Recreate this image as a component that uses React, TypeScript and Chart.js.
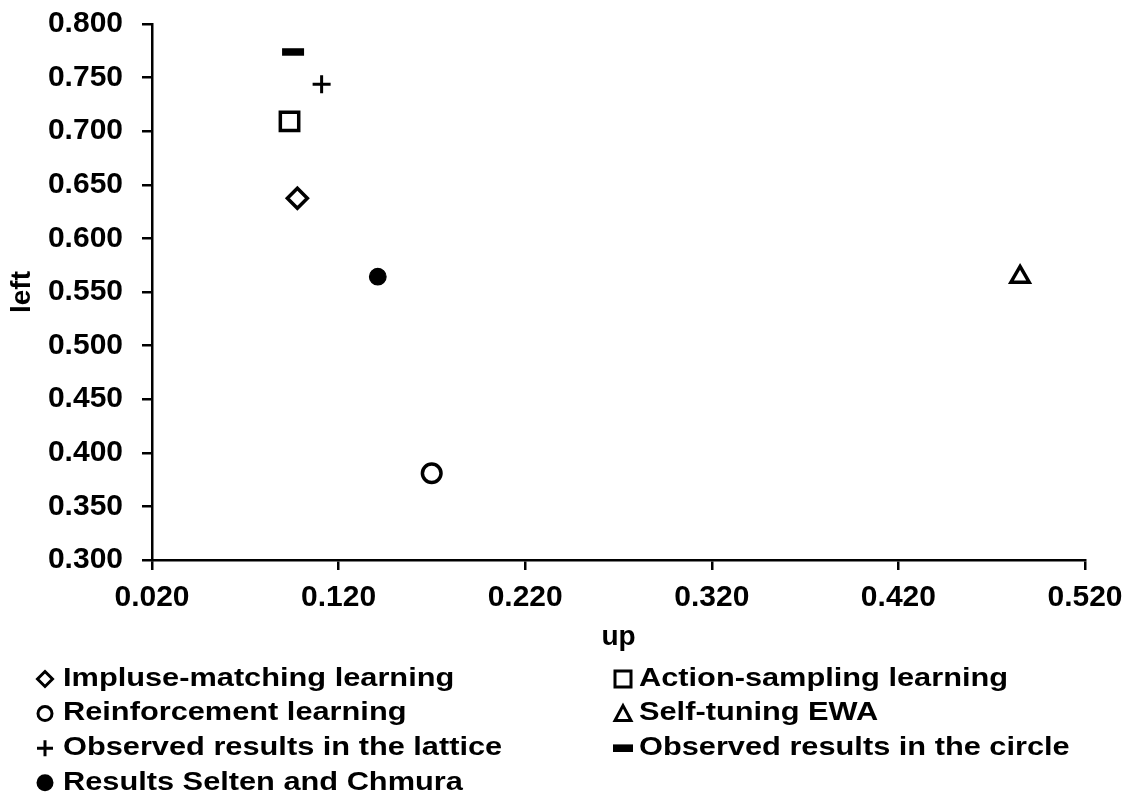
import React, { useEffect, useRef } from "react";
import { Chart, registerables } from "chart.js";

Chart.register(...registerables);

// ---- data ----
const seriesLabels = [
  "Impluse-matching learning",
  "Action-sampling learning",
  "Reinforcement learning",
  "Self-tuning EWA",
  "Observed results in the lattice",
  "Observed results in the circle",
  "Results Selten and Chmura",
];
const upValues = [0.0979, 0.0937, 0.1699, 0.4852, 0.1109, 0.0956, 0.141];
const leftValues = [0.6374, 0.7092, 0.3809, 0.564, 0.7438, 0.7739, 0.5643];
const xAxisTitle = "up";
const yAxisTitle = "left";
const xMin = 0.02;
const xMax = 0.52;
const xStep = 0.1;
const yMin = 0.3;
const yMax = 0.8;
const yStep = 0.05;

// ---- styles ----
const FONT = '"Liberation Sans", Arial, Helvetica, sans-serif';
type Mark = "diamond" | "square" | "circle" | "triangle" | "plus" | "dash" | "dot";
const marks: Mark[] = ["diamond", "square", "circle", "triangle", "plus", "dash", "dot"];

function pointOpts(m: Mark) {
  switch (m) {
    case "diamond":
      return { pointStyle: "rectRot", radius: 10, borderWidth: 3.5, backgroundColor: "#fff" };
    case "square":
      return { pointStyle: "rect", radius: 13, borderWidth: 3.5, backgroundColor: "#fff" };
    case "circle":
      return { pointStyle: "circle", radius: 9.3, borderWidth: 3.5, backgroundColor: "#fff" };
    case "triangle":
      return { pointStyle: "triangle", radius: 10.5, borderWidth: 3.5, backgroundColor: "#fff" };
    case "plus":
      return { pointStyle: "cross", radius: 9, borderWidth: 3, backgroundColor: "#000" };
    case "dash":
      return { pointStyle: "line", radius: 11, borderWidth: 7.5, backgroundColor: "#000" };
    default:
      return { pointStyle: "circle", radius: 8.3, borderWidth: 1.2, backgroundColor: "#000" };
  }
}

function drawLegendSymbol(ctx: CanvasRenderingContext2D, m: Mark, x: number, y: number) {
  ctx.save();
  ctx.strokeStyle = "#000";
  ctx.fillStyle = "#000";
  ctx.lineWidth = 3;
  ctx.beginPath();
  switch (m) {
    case "diamond":
      ctx.moveTo(x, y - 7.5);
      ctx.lineTo(x + 7.5, y);
      ctx.lineTo(x, y + 7.5);
      ctx.lineTo(x - 7.5, y);
      ctx.closePath();
      ctx.stroke();
      break;
    case "square":
      ctx.rect(x - 8, y - 8, 16, 16);
      ctx.stroke();
      break;
    case "circle":
      ctx.arc(x, y, 7, 0, Math.PI * 2);
      ctx.stroke();
      break;
    case "triangle":
      ctx.moveTo(x, y - 8);
      ctx.lineTo(x + 8, y + 7);
      ctx.lineTo(x - 8, y + 7);
      ctx.closePath();
      ctx.stroke();
      break;
    case "plus":
      ctx.moveTo(x - 8, y);
      ctx.lineTo(x + 8, y);
      ctx.moveTo(x, y - 8);
      ctx.lineTo(x, y + 8);
      ctx.stroke();
      break;
    case "dash":
      ctx.fillRect(x - 10, y - 3.8, 20, 7.6);
      break;
    default:
      ctx.arc(x, y, 8.5, 0, Math.PI * 2);
      ctx.fill();
  }
  ctx.restore();
}

const legendPlugin = {
  id: "customLegend",
  afterDraw(chart: any) {
    const ctx: CanvasRenderingContext2D = chart.ctx;
    ctx.save();
    seriesLabels.forEach((label, i) => {
      const col = i % 2;
      const row = Math.floor(i / 2);
      const sx = col === 0 ? 45 : 623;
      const cy = 679 + row * 34.6;
      drawLegendSymbol(ctx, marks[i], sx, cy);
      ctx.save();
      ctx.translate(sx + (col === 0 ? 18 : 16), cy);
      ctx.scale(1.23, 1);
      ctx.font = `bold 25px ${FONT}`;
      ctx.fillStyle = "#000";
      ctx.textAlign = "left";
      ctx.textBaseline = "middle";
      ctx.fillText(label, 0, 0);
      ctx.restore();
    });
    ctx.restore();
  },
};

export default function App() {
  const ref = useRef<HTMLCanvasElement | null>(null);

  useEffect(() => {
    document.body.style.margin = "0";
    const canvas = ref.current;
    if (!canvas) return;
    const datasets = seriesLabels.map((label, i) => ({
      label,
      data: [{ x: upValues[i], y: leftValues[i] }],
      borderColor: "#000",
      ...pointOpts(marks[i]),
      showLine: false,
    }));

    const chart = new Chart(canvas, {
      type: "scatter",
      data: { datasets } as any,
      options: {
        animation: false,
        responsive: false,
        events: [],
        layout: { padding: { left: 0, right: 46, top: 24, bottom: 140 } },
        plugins: {
          legend: { display: false },
          tooltip: { enabled: false },
        },
        scales: {
          x: {
            type: "linear",
            min: xMin,
            max: xMax,
            afterFit: (s: any) => {
              s.height = 95;
              s.paddingLeft = 10;
              s.paddingRight = 10;
            },
            ticks: {
              stepSize: xStep,
              color: "#000",
              font: { family: FONT, size: 30, weight: "bold" },
              padding: 10,
              maxRotation: 0,
              callback: (v: any) => Number(v).toFixed(3),
            },
            grid: {
              display: true,
              drawOnChartArea: false,
              drawTicks: true,
              tickLength: 10,
              color: "#000",
              lineWidth: 2.5,
            },
            border: { display: true, color: "#000", width: 2.5 },
            title: {
              display: true,
              text: xAxisTitle,
              color: "#000",
              font: { family: FONT, size: 28, weight: "bold" },
              padding: { top: 0, bottom: 1 },
            },
          },
          y: {
            type: "linear",
            min: yMin,
            max: yMax,
            afterFit: (s: any) => {
              s.width = 152;
              s.paddingTop = 10;
              s.paddingBottom = 10;
            },
            ticks: {
              stepSize: yStep,
              color: "#000",
              font: { family: FONT, size: 30, weight: "bold" },
              padding: 19,
              callback: (v: any) => Number(v).toFixed(3),
            },
            grid: {
              display: true,
              drawOnChartArea: false,
              drawTicks: true,
              tickLength: 10,
              color: "#000",
              lineWidth: 2.5,
            },
            border: { display: true, color: "#000", width: 2.5 },
            title: {
              display: true,
              text: yAxisTitle,
              color: "#000",
              font: { family: FONT, size: 28, weight: "bold" },
              padding: { top: 5, bottom: 0 },
            },
          },
        },
      } as any,
      plugins: [legendPlugin],
    });
    return () => chart.destroy();
  }, []);

  return (
    <div style={{ width: 1131, height: 795, background: "#fff" }}>
      <canvas ref={ref} width={1131} height={795} style={{ display: "block" }} />
    </div>
  );
}
